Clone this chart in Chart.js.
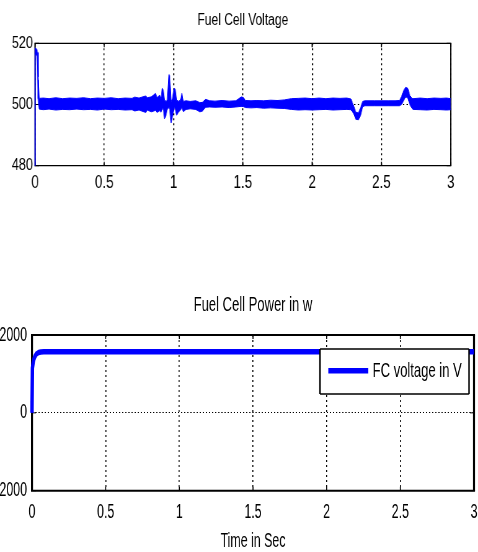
<!DOCTYPE html>
<html><head><meta charset="utf-8">
<script src="https://cdn.jsdelivr.net/npm/chart.js@4.4.1/dist/chart.umd.min.js"></script>
<style>
html,body{margin:0;padding:0;background:#fff;overflow:hidden;}
#wrap{position:relative;width:478px;height:552px;overflow:hidden;background:#fff;}
canvas{position:absolute;left:0;transform-origin:0 0;display:block;}
#c1{top:0;width:638px;height:230px;transform:scaleX(0.75);}
#c2{top:230px;width:771px;height:322px;transform:scaleX(0.62);}
</style></head><body>
<div id="wrap"><canvas id="c1" width="638" height="230"></canvas><canvas id="c2" width="771" height="322"></canvas></div>
<script>
// ---------- data ----------
const voltageTitle = 'Fuel Cell Voltage';
const powerTitle = 'Fuel Cell Power in w';
const xAxisTitle = 'Time in Sec';
const legendLabel = 'FC voltage in V';

const xTickValues = [0, 0.5, 1, 1.5, 2, 2.5, 3];
const xTickLabels = ['0', '0.5', '1', '1.5', '2', '2.5', '3'];
const voltTickValues = [480, 500, 520];
const voltTickLabels = ['480', '500', '520'];
const powerTickValues = [-2000, 0, 2000];
const powerTickLabels = ['-2000', '0', '2000'];

// voltage trace: upper and lower edges of the drawn (noisy) trace
const voltTime = [0, 0.001, 0.013, 0.018, 0.023, 0.03,
  0.06, 0.1, 0.15, 0.2, 0.25, 0.3, 0.35, 0.4, 0.45, 0.5, 0.55, 0.6, 0.65, 0.7,
  0.72, 0.75, 0.8, 0.81, 0.84, 0.87, 0.88, 0.9, 0.91,
  0.918, 0.925, 0.935, 0.945, 0.955, 0.966, 0.972, 0.982, 0.992, 1.004, 1.012, 1.022, 1.035, 1.05, 1.06, 1.07, 1.09,
  1.12, 1.16, 1.19, 1.21, 1.23, 1.26, 1.3, 1.35, 1.4, 1.45, 1.49, 1.505, 1.52, 1.56, 1.6, 1.65, 1.7, 1.75, 1.8, 1.85,
  1.9, 1.95, 2.0, 2.05, 2.1, 2.15, 2.2, 2.25, 2.28,
  2.3, 2.315, 2.335, 2.35, 2.365, 2.38, 2.45, 2.5, 2.55, 2.6, 2.63, 2.645, 2.66, 2.675, 2.69, 2.705, 2.72, 2.73,
  2.78, 2.83, 2.88, 2.93, 2.97, 3.0];
const voltUpper = [480, 518.5, 518, 517, 509, 502,
  502.1, 501.9, 502.2, 501.9, 502.1, 502.0, 502.2, 501.9, 502.1, 502.0, 502.2, 501.9, 502.1, 502.0,
  502.4, 502.1, 502.8, 502.2, 502.5, 503.6, 502.2, 503.0, 502.0,
  505.2, 504.8, 501.5, 501.0, 501.5, 509.8, 509.5, 501.0, 502.0, 505.3, 505.0, 501.5, 501.0, 501.5, 503.7, 501.0, 501.2,
  501.0, 501.2, 500.6, 500.7, 501.7, 501.2, 501.1, 501.3, 501.1, 501.2, 502.5, 502.2, 501.3, 501.2, 501.3, 501.2, 501.4, 501.3, 501.5, 501.9,
  502.0, 502.1, 501.9, 502.1, 501.9, 502.1, 502.0, 502.1, 501.8,
  499.5, 497.5, 497.2, 499.0, 501.0, 501.2, 501.2, 501.2, 501.2, 501.2, 501.3, 502.5, 504.5, 505.6, 505.3, 503.0, 502.0, 501.9,
  502.1, 501.9, 502.1, 502.0, 502.1, 501.9];
const voltLower = [480, 516.5, 516, 508, 502, 498.5,
  498.3, 498.5, 498.2, 498.4, 498.3, 498.5, 498.3, 498.4, 498.2, 498.5, 498.3, 498.4, 498.2, 498.3,
  497.9, 498.2, 497.4, 498.2, 497.6, 498.1, 497.4, 498.0, 497.5,
  498.5, 498.8, 495.3, 496.5, 498.5, 499.0, 498.5, 494.0, 496.0, 499.0, 498.5, 496.5, 497.5, 498.2, 499.0, 497.7, 498.4,
  498.6, 498.4, 497.6, 497.9, 499.1, 499.2, 499.1, 499.2, 499.0, 499.2, 499.4, 499.3, 499.0, 498.9, 499.0, 498.8, 498.9, 498.8, 498.7, 498.4,
  498.2, 498.3, 498.2, 498.3, 498.4, 498.2, 498.3, 498.4, 498.3,
  497.0, 495.2, 495.0, 496.5, 499.3, 499.6, 499.6, 499.6, 499.6, 499.6, 499.6, 500.0, 501.2, 502.5, 502.2, 500.0, 498.8, 498.4,
  498.3, 498.2, 498.4, 498.3, 498.2, 498.3];

// power trace
const powerTime = [0, 0.003, 0.008, 0.014, 0.02, 0.03, 0.045, 0.06, 0.08, 0.5, 1, 1.5, 2, 2.5, 3];
const powerValues = [0, 1150, 1300, 1390, 1450, 1510, 1550, 1565, 1570, 1570, 1570, 1570, 1570, 1570, 1570];

// ---------- helpers ----------
const FONT = "'Liberation Sans', Arial, sans-serif";
const pts = (xs, ys) => xs.map((x, i) => ({x: x, y: ys[i]}));

const framePlugin = {
  id: 'frame',
  beforeDatasetsDraw(chart, args, o) {
    const ctx = chart.ctx, a = chart.chartArea;
    const xs = chart.scales.x, ys = chart.scales.y;
    ctx.save();
    ctx.setLineDash([]);
    ctx.strokeStyle = '#000';
    ctx.lineCap = 'butt';
    // inward tick marks
    ctx.lineWidth = 1 / o.sx;
    ctx.beginPath();
    xs.ticks.forEach(t => {
      const p = xs.getPixelForValue(t.value);
      ctx.moveTo(p, a.bottom); ctx.lineTo(p, a.bottom - o.tick);
      ctx.moveTo(p, a.top); ctx.lineTo(p, a.top + o.tick);
    });
    ctx.stroke();
    ctx.lineWidth = 1;
    ctx.beginPath();
    ys.ticks.forEach(t => {
      const p = ys.getPixelForValue(t.value);
      ctx.moveTo(a.left, p); ctx.lineTo(a.left + o.tick / o.sx, p);
      ctx.moveTo(a.right, p); ctx.lineTo(a.right - o.tick / o.sx, p);
    });
    ctx.stroke();
    // box
    const hv = o.lw / o.sx / 2;
    ctx.lineWidth = o.lw;
    ctx.beginPath();
    ctx.moveTo(a.left - hv, a.top); ctx.lineTo(a.right + hv, a.top);
    ctx.moveTo(a.left - hv, a.bottom); ctx.lineTo(a.right + hv, a.bottom);
    ctx.stroke();
    ctx.lineWidth = o.lw / o.sx;
    ctx.beginPath();
    ctx.moveTo(a.left, a.top); ctx.lineTo(a.left, a.bottom);
    ctx.moveTo(a.right, a.top); ctx.lineTo(a.right, a.bottom);
    ctx.stroke();
    ctx.restore();
  }
};

const boxLegend = {
  id: 'boxLegend',
  afterDatasetsDraw(chart, args, o) {
    const ds = chart.data.datasets[0];
    const ctx = chart.ctx;
    ctx.save();
    ctx.setLineDash([]);
    ctx.fillStyle = '#fff';
    ctx.fillRect(o.x0, o.y0, o.x1 - o.x0, o.y1 - o.y0);
    ctx.strokeStyle = '#000';
    ctx.lineWidth = o.lw;
    ctx.beginPath();
    ctx.moveTo(o.x0, o.y0); ctx.lineTo(o.x1, o.y0);
    ctx.moveTo(o.x0, o.y1); ctx.lineTo(o.x1, o.y1);
    ctx.stroke();
    ctx.lineWidth = o.lw / o.sx;
    ctx.beginPath();
    ctx.moveTo(o.x0, o.y0); ctx.lineTo(o.x0, o.y1);
    ctx.moveTo(o.x1, o.y0); ctx.lineTo(o.x1, o.y1);
    ctx.stroke();
    ctx.strokeStyle = ds.borderColor;
    ctx.lineWidth = o.sampleWidth;
    ctx.beginPath();
    ctx.moveTo(o.lineX0, o.lineY); ctx.lineTo(o.lineX1, o.lineY);
    ctx.stroke();
    ctx.fillStyle = '#000';
    ctx.font = o.fontSize + 'px ' + FONT;
    ctx.textAlign = 'left';
    ctx.textBaseline = 'middle';
    ctx.fillText(ds.label, o.textX, o.textY);
    ctx.restore();
  }
};

Chart.defaults.color = '#000';
Chart.defaults.font.family = FONT;

// ---------- top chart ----------
const S1 = 0.75;
new Chart(document.getElementById('c1'), {
  type: 'line',
  data: {
    datasets: [
      {label: 'upper', data: pts(voltTime, voltUpper), borderColor: '#0000ff', backgroundColor: '#0000ff',
       borderWidth: 1, pointRadius: 0, fill: '+1', tension: 0, clip: 4},
      {label: 'lower', data: pts(voltTime, voltLower), borderColor: '#0000ff', backgroundColor: '#0000ff',
       borderWidth: 1, pointRadius: 0, fill: false, tension: 0, clip: 4}
    ]
  },
  plugins: [framePlugin],
  options: {
    responsive: false, animation: false, devicePixelRatio: 1,
    layout: {padding: {left: 0, right: 37.1, top: 0, bottom: 0}},
    plugins: {
      legend: {display: false}, tooltip: {enabled: false},
      title: {display: true, fullSize: false, text: voltageTitle, color: '#000',
        font: {family: FONT, size: 16, weight: 'normal', lineHeight: 1.2}, padding: {top: 11.2, bottom: 12.9}},
      frame: {sx: S1, lw: 1.3, tick: 4}
    },
    scales: {
      x: {
        type: 'linear', min: 0, max: 3,
        afterBuildTicks(s) { s.ticks = xTickValues.map(v => ({value: v})); },
        afterFit(s) { s.height = 64.3; s.paddingLeft = 0; s.paddingRight = 0; },
        grid: {color: '#000', lineWidth: 1 / S1, drawTicks: false},
        border: {display: false, dash: [2, 3]},
        ticks: {color: '#000', font: {family: FONT, size: 18}, padding: 6.8, maxRotation: 0, autoSkip: false,
          callback: (v, i) => xTickLabels[i]}
      },
      y: {
        type: 'linear', min: 480, max: 520,
        afterBuildTicks(s) { s.ticks = voltTickValues.map(v => ({value: v})); },
        afterFit(s) { s.width = 46.7; s.paddingTop = 0; s.paddingBottom = 0; },
        grid: {color: '#000', lineWidth: 1, drawTicks: false},
        border: {display: false, dash: [2, 3]},
        ticks: {color: '#000', font: {family: FONT, size: 17}, padding: 2.7,
          callback: (v, i) => voltTickLabels[i]}
      }
    }
  }
});

// ---------- bottom chart ----------
const S2 = 0.62;
new Chart(document.getElementById('c2'), {
  type: 'line',
  data: {
    datasets: [
      {label: legendLabel, data: pts(powerTime, powerValues), borderColor: '#0000ff',
       borderWidth: 5.5, pointRadius: 0, fill: false, tension: 0, borderJoinStyle: 'round', clip: 6}
    ]
  },
  plugins: [framePlugin, boxLegend],
  options: {
    responsive: false, animation: false, devicePixelRatio: 1,
    layout: {padding: {left: 0, right: 6.5, top: 0, bottom: 0}},
    plugins: {
      legend: {display: false}, tooltip: {enabled: false},
      title: {display: true, fullSize: false, text: powerTitle, color: '#000',
        font: {family: FONT, size: 21, weight: 'normal', lineHeight: 1.2}, padding: {top: 62.7, bottom: 17.1}},
      frame: {sx: S2, lw: 2, tick: 4},
      boxLegend: {sx: S2, lw: 1.5, x0: 516.1, y0: 119, x1: 756.5, y1: 164,
        lineX0: 529.5, lineX1: 594, lineY: 140.7, sampleWidth: 5.5, textX: 601.1, textY: 141.3, fontSize: 21}
    },
    scales: {
      x: {
        type: 'linear', min: 0, max: 3,
        afterBuildTicks(s) { s.ticks = xTickValues.map(v => ({value: v})); },
        afterFit(s) { s.height = 61.3; s.paddingLeft = 0; s.paddingRight = 0; },
        grid: {color: '#000', lineWidth: 1 / S2, drawTicks: false},
        border: {display: false, dash: [2, 3]},
        title: {display: true, text: xAxisTitle, color: '#000',
          font: {family: FONT, size: 20, lineHeight: 1.1}, padding: {top: 0, bottom: 0}},
        ticks: {color: '#000', font: {family: FONT, size: 20}, padding: 9.3, maxRotation: 0, autoSkip: false,
          callback: (v, i) => xTickLabels[i]}
      },
      y: {
        type: 'linear', min: -2000, max: 2000,
        afterBuildTicks(s) { s.ticks = powerTickValues.map(v => ({value: v})); },
        afterFit(s) { s.width = 51.6; s.paddingTop = 0; s.paddingBottom = 0; },
        grid: {color: '#000', lineWidth: 1, drawTicks: false},
        border: {display: false, dash: [2, 3]},
        ticks: {color: '#000', font: {family: FONT, size: 20}, padding: 8.1,
          callback: (v, i) => powerTickLabels[i]}
      }
    }
  }
});
</script>
</body></html>
